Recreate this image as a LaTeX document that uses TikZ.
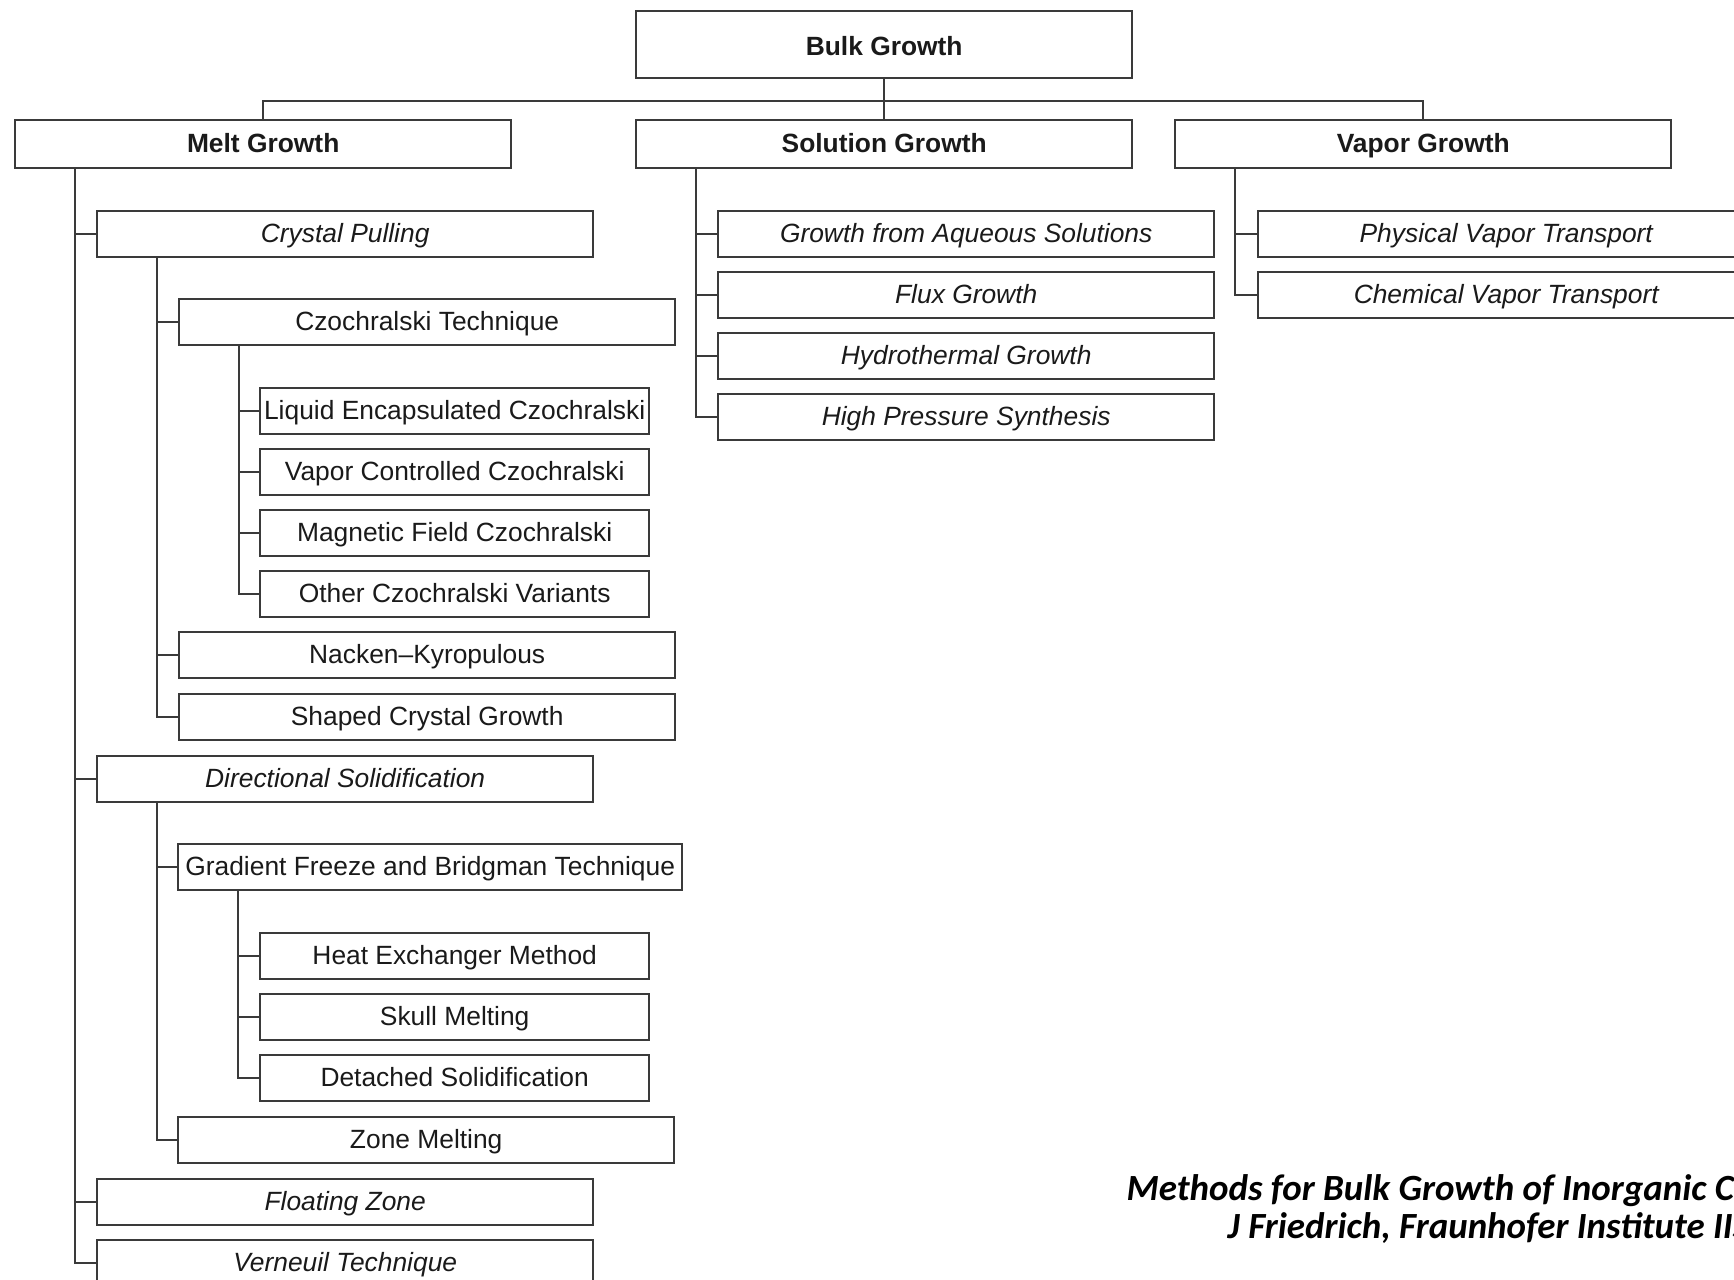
\documentclass[tikz,border=0pt]{standalone}
\usepackage{fontspec}
\setmainfont{Liberation Sans}
\newfontfamily\capfont{Carlito}
\usepackage{xcolor}
\usepackage{tikz}
\usetikzlibrary{positioning, calc}
\definecolor{boxline}{HTML}{3a3a3a}
\definecolor{boxtext}{HTML}{1a1a1a}

\begin{document}
\begin{tikzpicture}[
    x=0.01cm, y=-0.01cm,
    box/.style={
        rectangle, draw=boxline, line width=0.6pt, anchor=north west,
        inner sep=0pt, text=boxtext, fill=white,
        text height=5.8pt, text depth=1.0pt,
        font=\fontsize{7.5}{9}\selectfont,
        minimum width=4.96cm, minimum height=0.46cm,
    },
    rootbox/.style={box, minimum height=0.67cm,
        text height=7pt, text depth=0.8pt,
        font=\fontsize{7.5}{9}\selectfont\bfseries},
    groupbox/.style={box, minimum height=0.48cm,
        font=\fontsize{7.5}{9}\selectfont\bfseries},
    methodbox/.style={box, font=\fontsize{7.5}{9}\selectfont\itshape},
    techbox/.style={box},
    variantbox/.style={box, minimum width=3.89cm},
    link/.style={draw=boxline, line width=0.5pt},
    caption/.style={
        anchor=base west, inner sep=0pt, text=black,
        font=\capfont\bfseries\itshape\fontsize{10.5}{13}\selectfont,
    },
]

\path[use as bounding box] (0,0) rectangle (1734,1280);
\clip (0,0) rectangle (1734,1280);

% ── Top levels ──────────────────────────────────────────────────────────────
\node[rootbox]  (bulk) at (635, 10)   {Bulk Growth};
\node[groupbox] (melt) at (14, 119)   {Melt Growth};
\node[groupbox] (sol)  at (635, 119)  {Solution Growth};
\node[groupbox] (vap)  at (1174, 119) {Vapor Growth};

% ── Melt growth branch ─────────────────────────────────────────────────────
\node[methodbox]  (cp)   at (96, 210)   {Crystal Pulling};
\node[techbox]    (cz)   at (178, 298)  {Czochralski Technique};
\node[variantbox] (lec)  at (259, 387)  {Liquid Encapsulated Czochralski};
\node[variantbox] (vcc)  at (259, 448)  {Vapor Controlled Czochralski};
\node[variantbox] (mfc)  at (259, 509)  {Magnetic Field Czochralski};
\node[variantbox] (ocv)  at (259, 570)  {Other Czochralski Variants};
\node[techbox]    (nk)   at (178, 631)  {Nacken--Kyropulous};
\node[techbox]    (scg)  at (178, 693)  {Shaped Crystal Growth};

\node[methodbox]  (ds)   at (96, 755)   {Directional Solidification};
\node[techbox, minimum width=5.04cm]
                  (gf)   at (177, 843)  {Gradient Freeze and Bridgman Technique};
\node[variantbox] (hem)  at (259, 932)  {Heat Exchanger Method};
\node[variantbox] (sm)   at (259, 993)  {Skull Melting};
\node[variantbox] (dsol) at (259, 1054) {Detached Solidification};
\node[techbox]    (zm)   at (177, 1116) {Zone Melting};

\node[methodbox]  (fz)   at (96, 1178)  {Floating Zone};
\node[methodbox]  (vt)   at (96, 1239)  {Verneuil Technique};

% ── Solution growth branch ─────────────────────────────────────────────────
\node[methodbox] (aq)   at (717, 210) {Growth from Aqueous Solutions};
\node[methodbox] (flux) at (717, 271) {Flux Growth};
\node[methodbox] (hyd)  at (717, 332) {Hydrothermal Growth};
\node[methodbox] (hps)  at (717, 393) {High Pressure Synthesis};

% ── Vapor growth branch ────────────────────────────────────────────────────
\node[methodbox] (pvt) at (1257, 210) {Physical Vapor Transport};
\node[methodbox] (cvt) at (1257, 271) {Chemical Vapor Transport};

% ── Connectors ─────────────────────────────────────────────────────────────
\coordinate (bus) at ($(bulk.south)+(0,22)$);
\draw[link] (bulk.south) -- (sol.north);
\draw[link] (melt.north) |- (bus) -| (vap.north);

\foreach \c in {cp, ds, fz, vt}
    \draw[link] ([xshift=0.61cm]melt.south west) |- (\c.west);
\foreach \c in {cz, nk, scg}
    \draw[link] ([xshift=0.61cm]cp.south west) |- (\c.west);
\foreach \c in {lec, vcc, mfc, ocv}
    \draw[link] ([xshift=0.61cm]cz.south west) |- (\c.west);
\foreach \c in {gf, zm}
    \draw[link] ([xshift=0.61cm]ds.south west) |- (\c.west);
\foreach \c in {hem, sm, dsol}
    \draw[link] ([xshift=0.61cm]gf.south west) |- (\c.west);
\foreach \c in {aq, flux, hyd, hps}
    \draw[link] ([xshift=0.61cm]sol.south west) |- (\c.west);
\foreach \c in {pvt, cvt}
    \draw[link] ([xshift=0.61cm]vap.south west) |- (\c.west);

% ── Source caption ─────────────────────────────────────────────────────────
\node[caption] (cap1) at (1126, 1200) {Methods for Bulk Growth of Inorganic Crystals};
\node[caption] (cap2) at (1227, 1238) {J Friedrich, Fraunhofer Institute IISB};

\end{tikzpicture}
\end{document}
